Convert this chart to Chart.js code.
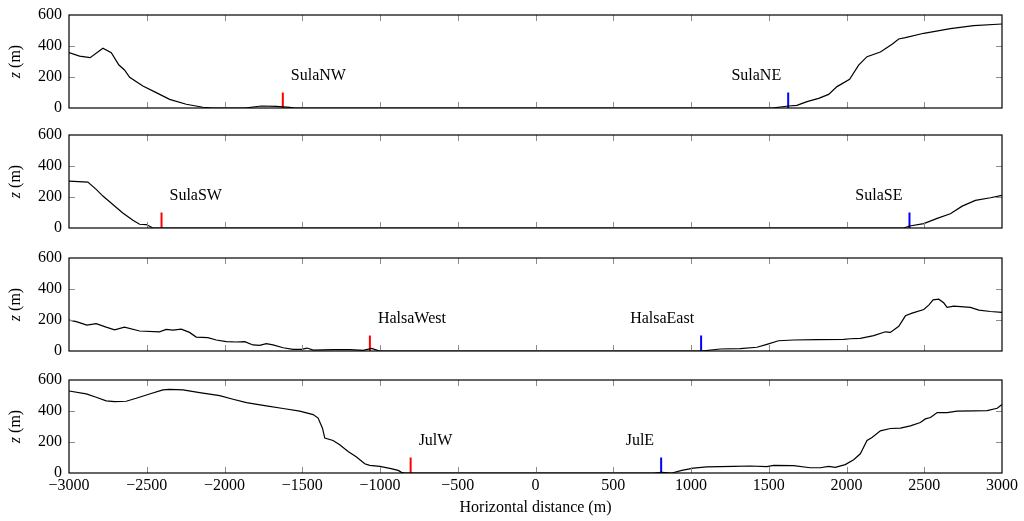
<!DOCTYPE html>
<html>
<head>
<meta charset="utf-8">
<script src="https://cdn.jsdelivr.net/npm/chart.js@4.4.1/dist/chart.umd.min.js"></script>
<style>
  html, body { margin: 0; padding: 0; background: #fff; }
  #wrap { position: relative; width: 1024px; height: 521px; overflow: hidden; }
  #wrap canvas { position: absolute; left: 0; }
</style>
</head>
<body>
<div id="wrap">
  <canvas id="p0" width="1024" height="133" style="top:-5px"></canvas>
  <canvas id="p1" width="1024" height="133" style="top:115px"></canvas>
  <canvas id="p2" width="1024" height="133" style="top:238px"></canvas>
  <canvas id="p3" width="1024" height="161" style="top:360px"></canvas>
</div>
<script>
/* ── DATA ── */
// Sula north transect
const sulaNorthX = [-3000, -2932, -2864, -2782, -2728, -2679, -2643, -2610, -2525, -2439, -2353, -2246, -2139, -2074, -1870, -1763, -1666, -1580, -1548,
  1521, 1627, 1681, 1746, 1821, 1885, 1939, 2020, 2078, 2132, 2218, 2293, 2336, 2379, 2497, 2668, 2818, 3000];
const sulaNorthZ = [357, 335, 325, 385, 357, 277, 245, 198, 142, 99, 56, 24, 5, 0, 0, 13, 11, 4, 0,
  0, 13, 17, 41, 62, 88, 138, 185, 277, 331, 361, 411, 445, 454, 482, 512, 531, 542];

// Sula south transect
const sulaSouthX = [-3000, -2879, -2825, -2782, -2718, -2654, -2589, -2546, -2503, -2460,
  2368, 2406, 2497, 2583, 2668, 2744, 2829, 2926, 3000];
const sulaSouthZ = [302, 296, 249, 206, 152, 97, 50, 24, 22, 0,
  0, 13, 28, 62, 92, 141, 178, 195, 210];

// Halsa transect
const halsaX = [-3000, -2953, -2885, -2825, -2761, -2707, -2643, -2546, -2418, -2375, -2332, -2278, -2225, -2182, -2107, -2053, -1988, -1924, -1870,
  -1817, -1774, -1731, -1688, -1623, -1559, -1505, -1469, -1430, -1301, -1194, -1108, -1054, -1011, -979,
  1067, 1188, 1316, 1424, 1488, 1563, 1660, 1810, 1982, 2025, 2089, 2175, 2250, 2282, 2336, 2379, 2422, 2497, 2529, 2557,
  2593, 2625, 2647, 2690, 2797, 2851, 2926, 3000];
const halsaZ = [199, 189, 167, 176, 154, 137, 154, 129, 124, 139, 135, 141, 120, 90, 86, 71, 60, 58, 60,
  39, 36, 47, 39, 21, 11, 11, 19, 6, 9, 9, 4, 17, 2, 0,
  0, 13, 15, 24, 43, 66, 71, 73, 75, 79, 81, 99, 124, 120, 159, 227, 244, 268, 296, 330,
  334, 311, 281, 289, 281, 264, 255, 249];

// Jul transect
const julX = [-3000, -2889, -2825, -2761, -2707, -2632, -2568, -2482, -2396, -2353, -2267, -2160, -2031, -1945, -1859, -1731, -1623, -1516, -1430,
  -1398, -1370, -1355, -1302, -1259, -1205, -1151, -1098, -1066, -1001, -937, -883, -862, -840,
  758, 812, 877, 941, 1016, 1102, 1273, 1381, 1488, 1531, 1660, 1767, 1832, 1885, 1928, 1992, 2046, 2089, 2132, 2164, 2218,
  2282, 2347, 2411, 2475, 2507, 2540, 2583, 2647, 2711, 2818, 2904, 2969, 3000];
const julZ = [529, 510, 489, 465, 461, 463, 482, 510, 536, 540, 536, 519, 499, 476, 454, 433, 416, 399, 377,
  354, 289, 225, 210, 182, 139, 103, 60, 49, 43, 30, 17, 4, 0,
  0, 4, 0, 17, 32, 39, 43, 45, 41, 49, 47, 34, 34, 43, 36, 54, 86, 124, 210, 229, 272,
  287, 289, 304, 326, 349, 358, 390, 390, 399, 401, 403, 418, 442];

const profilesX = [sulaNorthX, sulaSouthX, halsaX, julX];
const profilesZ = [sulaNorthZ, sulaSouthZ, halsaZ, julZ];

// station markers
const westNames = ["SulaNW", "SulaSW", "HalsaWest", "JulW"];
const eastNames = ["SulaNE", "SulaSE", "HalsaEast", "JulE"];
const westX = [-1625, -2405, -1065, -803];
const eastX = [1625, 2405, 1065, 808];
const markerTop = 100;
const labelZ = 200;

const xMin = -3000, xMax = 3000, xStep = 500;
const zMin = 0, zMax = 600, zStep = 200;

/* ── STYLE ── */
const FONT = "'Liberation Serif', 'DejaVu Serif', serif";
const FS = 16;

const framePlugin = {
  id: 'frame',
  afterDatasetsDraw(chart) {
    const { ctx, chartArea: a, scales: { x, y } } = chart;
    ctx.save();
    ctx.strokeStyle = '#8c8c8c';
    ctx.lineWidth = 1;
    ctx.beginPath();
    x.ticks.forEach(t => {
      if (t.value <= xMin || t.value >= xMax) return;
      const px = Math.round(x.getPixelForValue(t.value)) + 0.5;
      ctx.moveTo(px, a.top); ctx.lineTo(px, a.top + 6);
      ctx.moveTo(px, a.bottom); ctx.lineTo(px, a.bottom - 6);
    });
    y.ticks.forEach(t => {
      if (t.value <= zMin || t.value >= zMax) return;
      const py = Math.round(y.getPixelForValue(t.value)) + 0.5;
      ctx.moveTo(a.left, py); ctx.lineTo(a.left + 6, py);
      ctx.moveTo(a.right, py); ctx.lineTo(a.right - 6, py);
    });
    ctx.stroke();
    ctx.strokeStyle = '#000';
    ctx.lineWidth = 1.2;
    ctx.strokeRect(a.left, a.top, a.right - a.left, a.bottom - a.top);

    // station labels
    const i = chart.options.plugins.frame.panel;
    ctx.fillStyle = '#000';
    ctx.font = `${FS}px ${FONT}`;
    ctx.textBaseline = 'middle';
    const ly = y.getPixelForValue(labelZ) - 1;
    ctx.textAlign = 'left';
    ctx.fillText(westNames[i], x.getPixelForValue(westX[i]) + 8, ly);
    ctx.textAlign = 'right';
    ctx.fillText(eastNames[i], x.getPixelForValue(eastX[i]) - 7, ly);

    // y title with italic z
    ctx.translate(15.5, (a.top + a.bottom) / 2);
    ctx.rotate(-Math.PI / 2);
    ctx.textAlign = 'left';
    ctx.font = `italic ${FS}px ${FONT}`;
    const wz = ctx.measureText('z').width;
    ctx.font = `${FS}px ${FONT}`;
    const wm = ctx.measureText(' (m)').width;
    const x0 = -(wz + wm) / 2;
    ctx.font = `italic ${FS}px ${FONT}`;
    ctx.fillText('z', x0, 0);
    ctx.font = `${FS}px ${FONT}`;
    ctx.fillText(' (m)', x0 + wz, 0);
    ctx.restore();
  }
};

function makePanel(i, last) {
  const ctx = document.getElementById('p' + i).getContext('2d');
  const profile = profilesX[i].map((x, k) => ({ x, y: profilesZ[i][k] }));
  return new Chart(ctx, {
    type: 'line',
    data: {
      datasets: [
        { data: profile, borderColor: '#000', borderWidth: 1.2, pointRadius: 0, tension: 0 },
        { data: [{ x: westX[i], y: 0 }, { x: westX[i], y: markerTop }], borderColor: '#ff0000', borderWidth: 2, pointRadius: 0 },
        { data: [{ x: eastX[i], y: 0 }, { x: eastX[i], y: markerTop }], borderColor: '#0000ff', borderWidth: 2, pointRadius: 0 }
      ]
    },
    options: {
      responsive: false, animation: false, devicePixelRatio: 1,
      layout: { padding: { top: 20, right: 22, left: 0, bottom: last ? 0 : 20 } },
      plugins: { legend: { display: false }, tooltip: { enabled: false }, frame: { panel: i } },
      scales: {
        x: {
          type: 'linear', min: xMin, max: xMax,
          grid: { display: false, drawTicks: false }, border: { display: false },
          ticks: {
            display: last, stepSize: xStep, padding: 3, color: '#000',
            font: { family: FONT, size: FS },
            callback: v => v < 0 ? '\u2212' + Math.abs(v) : String(v)
          },
          title: {
            display: last, text: 'Horizontal distance (m)', color: '#000',
            font: { family: FONT, size: FS }, padding: { top: 2, bottom: 4 }
          },
          afterFit: s => { s.height = last ? 48 : 0; }
        },
        y: {
          min: zMin, max: zMax,
          grid: { display: false, drawTicks: false }, border: { display: false },
          ticks: { stepSize: zStep, padding: 7, color: '#000', font: { family: FONT, size: FS } },
          afterFit: s => { s.width = 69; }
        }
      }
    },
    plugins: [framePlugin]
  });
}

/* ── START ── */
[0, 1, 2, 3].forEach(i => makePanel(i, i === 3));
</script>
</body>
</html>
